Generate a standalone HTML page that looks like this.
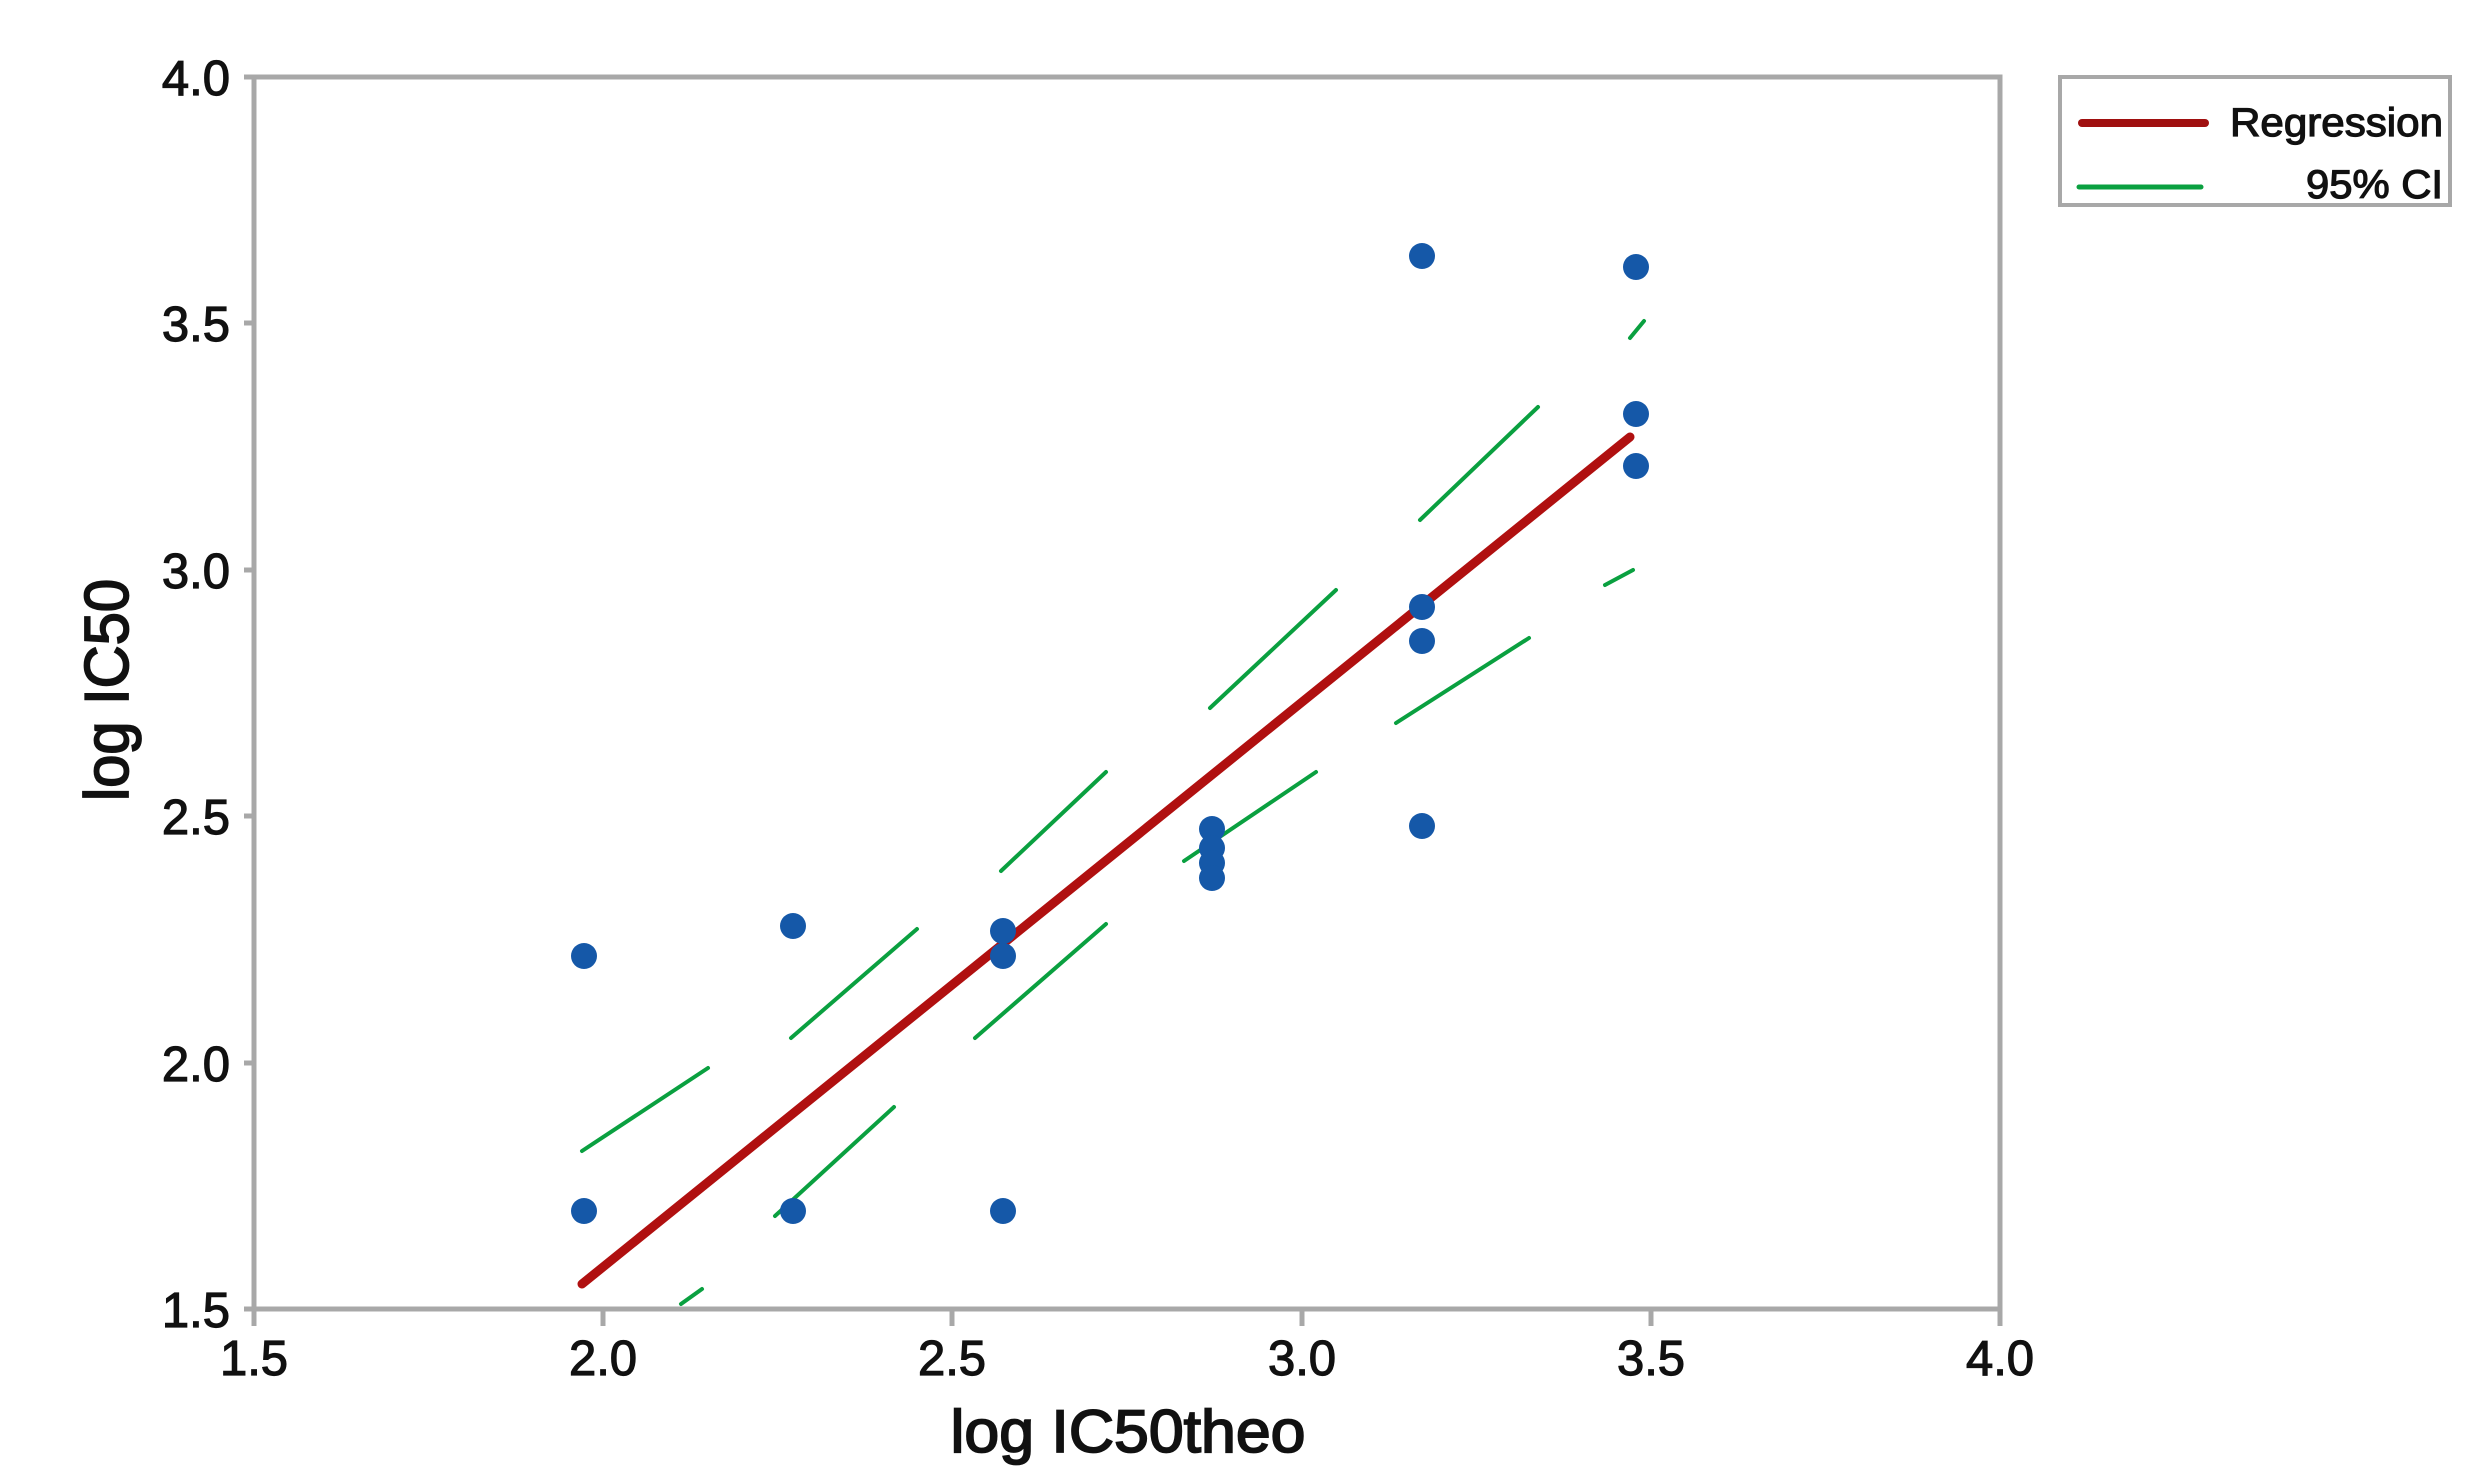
<!DOCTYPE html>
<html><head><meta charset="utf-8"><style>
html,body{margin:0;padding:0;background:#fff;}
svg{display:block;}
text{font-family:"Liberation Sans",sans-serif;fill:#111;stroke:#111;stroke-width:1.2;}
</style></head><body>
<svg width="2472" height="1482" viewBox="0 0 2472 1482" xmlns="http://www.w3.org/2000/svg">
<rect width="2472" height="1482" fill="#fff"/>
<rect x="254" y="77" width="1746" height="1232" fill="none" stroke="#a8a8a8" stroke-width="5"/>
<g stroke="#a8a8a8" stroke-width="5">
<line x1="254" y1="1309" x2="254" y2="1326"/>
<line x1="603" y1="1309" x2="603" y2="1326"/>
<line x1="952" y1="1309" x2="952" y2="1326"/>
<line x1="1302" y1="1309" x2="1302" y2="1326"/>
<line x1="1651" y1="1309" x2="1651" y2="1326"/>
<line x1="2000" y1="1309" x2="2000" y2="1326"/>
<line x1="244" y1="77" x2="254" y2="77"/>
<line x1="244" y1="323" x2="254" y2="323"/>
<line x1="244" y1="570" x2="254" y2="570"/>
<line x1="244" y1="816" x2="254" y2="816"/>
<line x1="244" y1="1063" x2="254" y2="1063"/>
<line x1="244" y1="1309" x2="254" y2="1309"/>
</g>
<g font-size="49" text-anchor="middle">
<text x="254" y="1375">1.5</text>
<text x="603" y="1375">2.0</text>
<text x="952" y="1375">2.5</text>
<text x="1302" y="1375">3.0</text>
<text x="1651" y="1375">3.5</text>
<text x="2000" y="1375">4.0</text>
</g>
<g font-size="49" text-anchor="end">
<text x="230" y="95">4.0</text>
<text x="230" y="341">3.5</text>
<text x="230" y="588">3.0</text>
<text x="230" y="834">2.5</text>
<text x="230" y="1081">2.0</text>
<text x="230" y="1327">1.5</text>
</g>
<text x="1128" y="1452" font-size="60" text-anchor="middle" textLength="355" lengthAdjust="spacingAndGlyphs" style="stroke-width:1.8">log IC50theo</text>
<text transform="translate(128,690) rotate(-90)" font-size="62" text-anchor="middle" textLength="222" lengthAdjust="spacingAndGlyphs" style="stroke-width:1.8">log IC50</text>
<g stroke="#0aa040" stroke-width="4" fill="none" stroke-linecap="round">
<line x1="582" y1="1151" x2="708" y2="1068"/>
<line x1="791" y1="1038" x2="917" y2="929"/>
<line x1="1001" y1="871" x2="1106" y2="772"/>
<line x1="1210" y1="708" x2="1336" y2="590"/>
<line x1="1420" y1="520" x2="1538" y2="407"/>
<line x1="1630" y1="338" x2="1644" y2="321"/>
<line x1="681" y1="1304" x2="702" y2="1289"/>
<line x1="775" y1="1216" x2="894" y2="1107"/>
<line x1="975" y1="1038" x2="1106" y2="924"/>
<line x1="1184" y1="861" x2="1316" y2="772"/>
<line x1="1396" y1="723" x2="1529" y2="638"/>
<line x1="1605" y1="585" x2="1633" y2="570"/>
</g>
<line x1="582" y1="1284" x2="1630" y2="437" stroke="#b01010" stroke-width="9" stroke-linecap="round"/>
<g fill="#1558a8">
<circle cx="584" cy="956" r="13"/>
<circle cx="584" cy="1211" r="13"/>
<circle cx="793" cy="926" r="13"/>
<circle cx="793" cy="1211" r="13"/>
<circle cx="1003" cy="931" r="13"/>
<circle cx="1003" cy="956" r="13"/>
<circle cx="1003" cy="1211" r="13"/>
<circle cx="1212" cy="829" r="13"/>
<circle cx="1212" cy="848" r="13"/>
<circle cx="1212" cy="863" r="13"/>
<circle cx="1212" cy="878" r="13"/>
<circle cx="1422" cy="256" r="13"/>
<circle cx="1422" cy="607" r="13"/>
<circle cx="1422" cy="641" r="13"/>
<circle cx="1422" cy="826" r="13"/>
<circle cx="1636" cy="267" r="13"/>
<circle cx="1636" cy="414" r="13"/>
<circle cx="1636" cy="466" r="13"/>
</g>
<rect x="2060" y="77" width="390" height="128" fill="#fff" stroke="#a8a8a8" stroke-width="4"/>
<line x1="2082" y1="123" x2="2205" y2="123" stroke="#a01010" stroke-width="8" stroke-linecap="round"/>
<line x1="2079" y1="187" x2="2201" y2="187" stroke="#0aa040" stroke-width="5" stroke-linecap="round"/>
<text x="2443" y="136" font-size="40" text-anchor="end" textLength="213" lengthAdjust="spacingAndGlyphs">Regression</text>
<text x="2443" y="198" font-size="40" text-anchor="end" textLength="137" lengthAdjust="spacingAndGlyphs">95% CI</text>
</svg>
</body></html>
